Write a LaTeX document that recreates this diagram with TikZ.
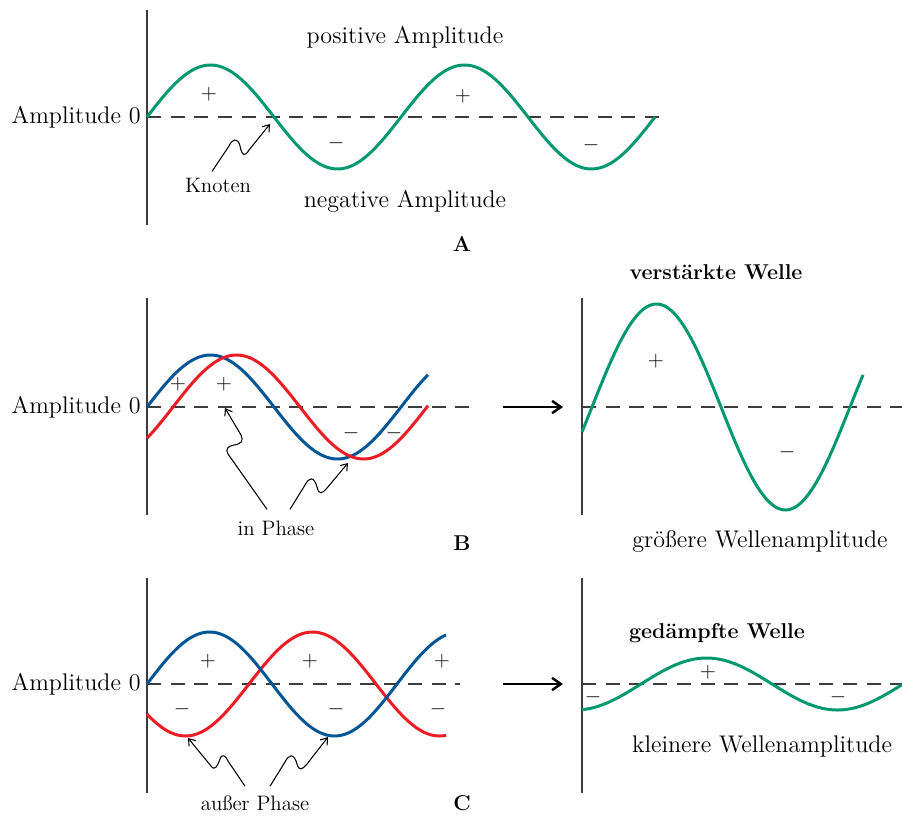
\documentclass[tikz,border=0pt]{standalone}
\usetikzlibrary{arrows.meta}
\definecolor{wgruen}{RGB}{0,152,110}
\definecolor{wblau}{RGB}{0,85,150}
\definecolor{wrot}{RGB}{237,28,36}
\definecolor{achsgrau}{RGB}{60,60,60}
\begin{document}
\begin{tikzpicture}[x=0.02cm, y=-0.02cm,
    achse/.style={draw=achsgrau, line width=0.8pt},
    nulllinie/.style={draw=achsgrau, line width=0.8pt, dash pattern=on 8pt off 5.5pt},
    welle/.style={line width=1.7pt, samples=150},
    zeiger/.style={-{Straight Barb[length=3.5pt,width=5pt]}, line width=0.6pt},
    pfeil/.style={-{Straight Barb[length=5pt,width=7pt]}, line width=1.4pt},
    gross/.style={font=\fontsize{13.7}{16}\selectfont, inner sep=0pt},
    klein/.style={font=\fontsize{11.9}{14}\selectfont, inner sep=0pt},
    titel/.style={font=\fontsize{12.2}{14}\selectfont\bfseries, inner sep=0pt},
    zeichen/.style={font=\fontsize{12}{14}\selectfont, inner sep=0pt}]
    \useasboundingbox (0,0) rectangle (902,815);

    % A: eine Welle
    \draw[achse] (147,10) -- (147,225);
    \draw[nulllinie] (147,117) -- (665,117);
    \draw[welle, wgruen] plot[domain=147:655] (\x, {117-52*sin(360/254*(\x-147))});
    \node[gross, anchor=east] (ampA) at (141,117) {Amplitude 0};
    \node[gross] (posA) at (405,37) {positive Amplitude};
    \node[gross] (negA) at (405,201) {negative Amplitude};
    \node[zeichen] (pA1) at (209,94) {$+$};
    \node[zeichen] (pA2) at (463,96) {$+$};
    \node[zeichen] (mA1) at (336,143) {$-$};
    \node[zeichen] (mA2) at (591,145) {$-$};
    \node[klein] (knoten) at (218,185) {Knoten};
    \coordinate (k1) at (270,124);
    \draw[zeiger] ([shift={(-6,-6)}]knoten.north) -- (229,146) .. controls (232,139) and (238,137) .. (240,146)
        .. controls (242,156) and (245,157) .. (249,150) -- (k1);
    \node[titel] (labA) at (462,244) {A};

    % B: in Phase
    \draw[achse] (147,298) -- (147,515);
    \draw[nulllinie] (147,407) -- (475,407);
    \draw[welle, wblau] plot[domain=147:428] (\x, {407-52*sin(360/254*(\x-147))});
    \draw[welle, wrot] plot[domain=147:428] (\x, {407-52*sin(360/254*(\x-173))});
    \node[gross, anchor=east] (ampB) at (141,407) {Amplitude 0};
    \node[zeichen] (pB1) at (178,384) {$+$};
    \node[zeichen] (pB2) at (224,384) {$+$};
    \node[zeichen] (mB1) at (351,433) {$-$};
    \node[zeichen] (mB2) at (394,433) {$-$};
    \node[klein] (phase) at (276,528) {in Phase};
    \coordinate (p1) at (225,408);
    \coordinate (p2) at (348,463);
    \draw[zeiger] ([shift={(-9,-11)}]phase.north) -- (228,454) .. controls (225,449) and (228,446) .. (234,445)
        .. controls (241,444) and (244,441) .. (241,435) -- (p1);
    \draw[zeiger] ([shift={(14,-11)}]phase.north) -- (305,485) .. controls (309,477) and (314,476) .. (317,487)
        .. controls (319,495) and (322,494) .. (327,488) -- (p2);
    \node[titel] (labB) at (462,543) {B};
    \coordinate (b0) at (503,407);
    \coordinate (b1) at (563,407);
    \draw[pfeil] (b0) -- (b1);

    % B rechts: verstaerkte Welle
    \draw[achse] (582,298) -- (582,515);
    \draw[nulllinie] (582,407) -- (902,407);
    \draw[welle, wgruen] plot[domain=582:863] (\x, {407-103*sin(360/258*(\x-592))});
    \node[titel] (verst) at (716,272) {verstärkte Welle};
    \node[zeichen] (pB3) at (656,361) {$+$};
    \node[zeichen] (mB3) at (787,452) {$-$};
    \node[gross] (groesser) at (760,541) {größere Wellenamplitude};

    % C: ausser Phase
    \draw[achse] (147,578) -- (147,793);
    \draw[nulllinie] (147,684) -- (460,684);
    \draw[welle, wrot] plot[domain=147:446] (\x, {684+52*sin(360/254*(\x-122))});
    \draw[welle, wblau] plot[domain=147:446] (\x, {684-52*sin(360/250*(\x-147))});
    \node[gross, anchor=east] (ampC) at (141,684) {Amplitude 0};
    \node[zeichen] (pC1) at (208,661) {$+$};
    \node[zeichen] (pC2) at (310,661) {$+$};
    \node[zeichen] (pC3) at (442,661) {$+$};
    \node[zeichen] (mC1) at (182,709) {$-$};
    \node[zeichen] (mC2) at (336,709) {$-$};
    \node[zeichen] (mC3) at (438,709) {$-$};
    \node[klein] (ausser) at (255,803) {außer Phase};
    \coordinate (a1) at (188,738);
    \coordinate (a2) at (328,737);
    \draw[zeiger] ([shift={(-10,-9)}]ausser.north) -- (228,761) .. controls (226,756) and (222,753) .. (220,759)
        .. controls (217,767) and (215,771) .. (211,766) -- (a1);
    \draw[zeiger] ([shift={(15,-9)}]ausser.north) -- (285,762) .. controls (289,754) and (294,753) .. (297,764)
        .. controls (299,771) and (302,770) .. (307,764) -- (a2);
    \node[titel] (labC) at (462,803) {C};
    \coordinate (c0) at (503,684);
    \coordinate (c1) at (563,684);
    \draw[pfeil] (c0) -- (c1);

    % C rechts: gedaempfte Welle
    \draw[achse] (582,578) -- (582,793);
    \draw[nulllinie] (582,684) -- (902,684);
    \draw[welle, wgruen] plot[domain=582:902] (\x, {684-26*sin(360/262*(\x-641))});
    \node[titel] (gedaempft) at (717,633) {gedämpfte Welle};
    \node[zeichen] (pC4) at (708,672) {$+$};
    \node[zeichen] (mC4) at (593,697) {$-$};
    \node[zeichen] (mC5) at (838,697) {$-$};
    \node[gross] (kleiner) at (762,746) {kleinere Wellenamplitude};
\end{tikzpicture}
\end{document}
